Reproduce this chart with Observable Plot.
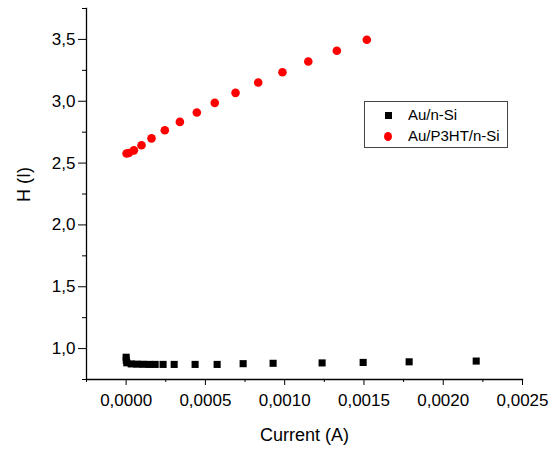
<!DOCTYPE html>
<html>
<head>
<meta charset="utf-8">
<script src="https://cdn.jsdelivr.net/npm/d3@7"></script>
<script src="https://cdn.jsdelivr.net/npm/@observablehq/plot@0.6"></script>
<style>
  body { margin: 0; background: #fff; }
  #wrap { position: relative; width: 556px; height: 451px; font-family: "Liberation Sans", Arial, sans-serif; }
  #legend { position: absolute; left: 364px; top: 101px; width: 142px; height: 45px; border: 1px solid #444; background: #fff; font-size: 15px; }
  .row { position: absolute; left: 0; height: 20px; line-height: 20px; }
  .lab { position: absolute; left: 43px; white-space: nowrap; }
  .sq { position: absolute; left: 20px; top: 7px; width: 7px; height: 7px; background: #000; }
  .ci { position: absolute; left: 19px; top: 6px; width: 8px; height: 9px; border-radius: 50%; background: #ff0000; }
</style>
</head>
<body>
<div id="wrap"></div>
<script>
// Au/n-Si series
const currentAuSi = [0, 0.000001, 0.000004, 0.000032, 0.000069, 0.000107, 0.000145, 0.000183, 0.000233, 0.000303, 0.000435, 0.000574, 0.000738, 0.000927, 0.001236, 0.001495, 0.001785, 0.002208];
const hAuSi = [0.93, 0.905, 0.885, 0.876, 0.874, 0.873, 0.872, 0.872, 0.872, 0.872, 0.872, 0.872, 0.878, 0.881, 0.884, 0.888, 0.893, 0.899];
// Au/P3HT/n-Si series
const currentP3HT = [0.0000025, 0.000017, 0.000049, 0.000097, 0.00016, 0.000244, 0.000339, 0.000446, 0.000559, 0.00069, 0.000833, 0.000986, 0.001149, 0.001329, 0.001518];
const hP3HT = [2.577, 2.581, 2.603, 2.644, 2.700, 2.765, 2.833, 2.909, 2.987, 3.068, 3.152, 3.235, 3.322, 3.408, 3.497];
// ticks
const xTicks = [0, 0.0005, 0.001, 0.0015, 0.002, 0.0025];
const xMinor = [-0.00025, 0.00025, 0.00075, 0.00125, 0.00175, 0.00225];
const yTicks = [1.0, 1.5, 2.0, 2.5, 3.0, 3.5];
const yMinor = [0.75, 1.25, 1.75, 2.25, 2.75, 3.25, 3.75];
const seriesNames = ["Au/n-Si", "Au/P3HT/n-Si"];
const xLabel = "Current (A)";
const yLabel = "H (I)";

const dataAuSi = currentAuSi.map((c, i) => ({c, h: hAuSi[i]}));
const dataP3HT = currentP3HT.map((c, i) => ({c, h: hP3HT[i]}));

const fx = d => d.toFixed(4).replace(".", ",");
const fy = d => d.toFixed(1).replace(".", ",");

const plot = Plot.plot({
  width: 556,
  height: 451,
  marginLeft: 86,
  marginRight: 34,
  marginTop: 8,
  marginBottom: 72,
  style: {fontFamily: "'Liberation Sans', Arial, sans-serif", fontSize: "17px", background: "#fff", color: "#000"},
  x: {domain: [-0.00025, 0.0025]},
  y: {domain: [0.75, 3.75]},
  marks: [
    Plot.axisX({ticks: xTicks, tickFormat: fx, tickSize: 6, tickPadding: 8, label: null, stroke: "#000"}),
    Plot.axisX({ticks: xMinor, tickFormat: () => "", tickSize: 3, label: null, stroke: "#000"}),
    Plot.axisY({ticks: yTicks, tickFormat: fy, tickSize: 8, tickPadding: 3, label: null, stroke: "#000"}),
    Plot.axisY({ticks: yMinor, tickFormat: () => "", tickSize: 4, label: null, stroke: "#000"}),
    Plot.frame({anchor: "left", stroke: "#000", strokeWidth: 1.3}),
    Plot.frame({anchor: "bottom", stroke: "#000", strokeWidth: 1.3}),
    Plot.dot(dataAuSi, {x: "c", y: "h", symbol: "square", r: 4, fill: "#000", stroke: "none"}),
    Plot.dot(dataP3HT, {x: "c", y: "h", r: 4.3, fill: "#ff0000", stroke: "none"}),
    Plot.text([xLabel], {frameAnchor: "bottom", dy: 61, fontSize: 18, fill: "#000"}),
    Plot.text([yLabel], {frameAnchor: "left", dx: -62, dy: 8, rotate: -90, fontSize: 18, fill: "#000"})
  ]
});

const wrap = document.getElementById("wrap");
wrap.appendChild(plot);

const legend = document.createElement("div");
legend.id = "legend";
legend.innerHTML =
  `<div class="row" style="top:3px;width:100%"><span class="sq"></span><span class="lab">${seriesNames[0]}</span></div>` +
  `<div class="row" style="top:24px;width:100%"><span class="ci"></span><span class="lab">${seriesNames[1]}</span></div>`;
wrap.appendChild(legend);
</script>
</body>
</html>
